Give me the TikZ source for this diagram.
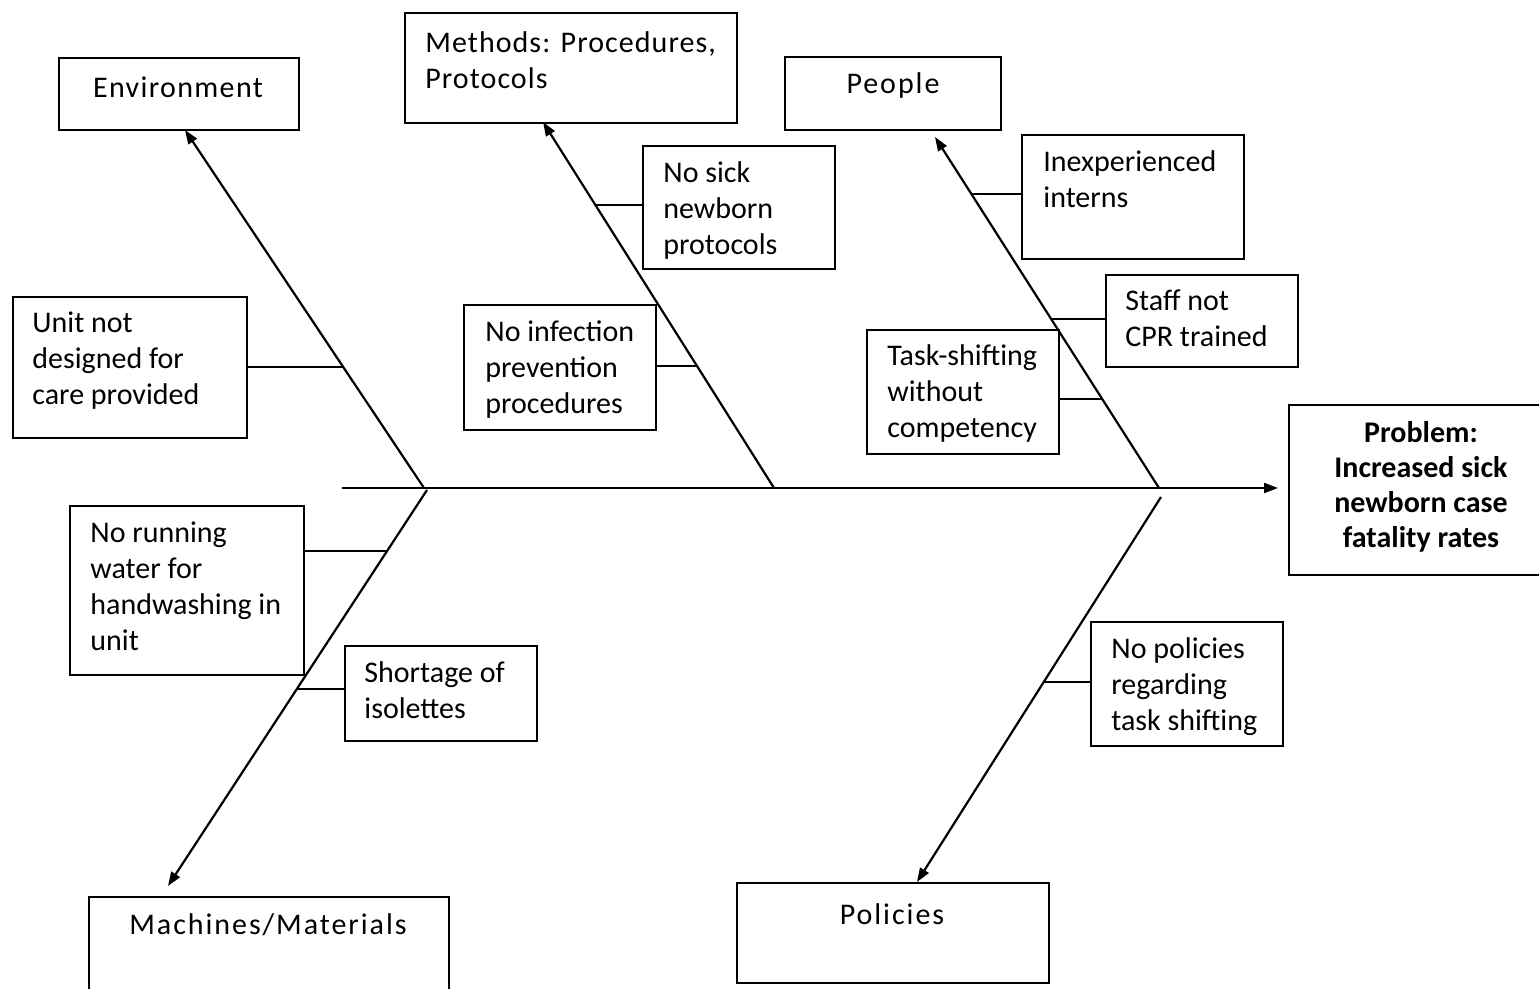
\documentclass[tikz,border=0pt]{standalone}
\usepackage{fontspec}
\setmainfont{Carlito}
\newfontfamily\spA[LetterSpace=4.5]{Carlito}
\newfontfamily\spB[LetterSpace=6.5]{Carlito}
\newfontfamily\spC[LetterSpace=3.5]{Carlito}
\usetikzlibrary{arrows.meta,calc}
\begin{document}
\begin{tikzpicture}[x=0.5pt,y=-0.5pt,
  box/.style={draw,line width=1pt,rectangle,inner sep=0pt,anchor=north west},
  txt/.style={inner sep=0pt,align=left,anchor=base west,font=\fontsize{15}{18}\selectfont},
  ctxt/.style={inner sep=0pt,align=center,anchor=base,font=\fontsize{15}{18}\selectfont},
  btxt/.style={inner sep=0pt,align=center,anchor=base,font=\fontsize{15}{17.5}\selectfont\bfseries},
  arr/.style={line width=1.1pt,-{Triangle[length=7pt,width=5pt]}},
  sub/.style={line width=0.9pt}]
\useasboundingbox (0,0) rectangle (1539,989);
% boxes (sizes in pt = px/2)
\node[box,minimum width=120pt,minimum height=36pt] (env) at (58,57) {};
\node[box,minimum width=166pt,minimum height=55pt] (meth) at (404,12) {};
\node[box,minimum width=108pt,minimum height=36.5pt] (peop) at (784,56) {};
\node[box,minimum width=96pt,minimum height=61.5pt] (sick) at (642,145) {};
\node[box,minimum width=111pt,minimum height=62pt] (inexp) at (1021,134) {};
\node[box,minimum width=96pt,minimum height=46pt] (cpr) at (1105,274) {};
\node[box,minimum width=96pt,minimum height=62pt] (task) at (866,329) {};
\node[box,minimum width=96pt,minimum height=62.5pt] (infec) at (463,304) {};
\node[box,minimum width=117pt,minimum height=70.5pt] (unit) at (12,296) {};
\node[box,minimum width=130pt,minimum height=85pt] (prob) at (1288,404) {};
\node[box,minimum width=117pt,minimum height=84.5pt] (water) at (69,505) {};
\node[box,minimum width=96pt,minimum height=47.5pt] (short) at (344,645) {};
\node[box,minimum width=96pt,minimum height=62pt] (pol1) at (1090,621) {};
\node[box,minimum width=180pt,minimum height=55pt] (mach) at (88,896) {};
\node[box,minimum width=156pt,minimum height=50pt] (pols) at (736,882) {};
% texts (anchor = baseline of last line)
\node[ctxt] (envt) at (178,98) {\spA Environment};
\node[txt] (metht) at (425,89) {\spC Methods: Procedures,\\\spC Protocols};
\node[ctxt] (peopt) at (893,94) {\spB People};
\node[txt] (sickt) at (663,255) {No sick\\newborn\\protocols};
\node[txt] (inexpt) at (1043,208) {Inexperienced\\interns};
\node[txt] (cprt) at (1125,347) {Staff not\\CPR trained};
\node[txt] (taskt) at (887,438) {Task-shifting\\without\\competency};
\node[txt] (infect) at (485,414) {No infection\\prevention\\procedures};
\node[txt] (unitt) at (32,405) {Unit not\\designed for\\care provided};
\node[btxt] (probt) at (1421,548) {Problem:\\Increased sick\\newborn case\\fatality rates};
\node[txt] (watert) at (90,651) {No running\\water for\\handwashing in\\unit};
\node[txt] (shortt) at (364,719) {Shortage of\\isolettes};
\node[txt] (pol1t) at (1111,731) {No policies\\regarding\\task shifting};
\node[ctxt] (macht) at (268,935) {\spB Machines/Materials};
\node[ctxt] (polst) at (892,925) {\spB Policies};
% spine and bones
\coordinate (s0) at (342,488);
\coordinate (s1) at (1278,488);
\coordinate (f1) at (424,488);
\coordinate (f1b) at (427,490);
\coordinate (f2) at (774,488);
\coordinate (f3) at (1159,488);
\coordinate (f3b) at (1161,497);
\coordinate (tenv) at (185,130);
\coordinate (tmach) at (168,886);
\coordinate (tmeth) at (543,122);
\coordinate (tpeop) at (935,137);
\coordinate (tpol) at (917,882);
\draw[arr] (s0) -- (s1);
\draw[arr] (f1) -- (tenv);
\draw[arr] (f1b) -- (tmach);
\draw[arr] (f2) -- (tmeth);
\draw[arr] (f3) -- (tpeop);
\draw[arr] (f3b) -- (tpol);
% points on bones
\coordinate (bunit) at (343.2,367);
\coordinate (bwater) at (387.1,551);
\coordinate (bshort) at (296.9,689);
\coordinate (bsick) at (595.4,205);
\coordinate (binfec) at (697.0,366);
\coordinate (binexp) at (971.4,194);
\coordinate (bcpr) at (1051.2,319);
\coordinate (btask) at (1102.2,399);
\coordinate (bpol) at (1043.7,682);
\draw[sub] (unit.east |- bunit) -- (bunit);
\draw[sub] (water.east |- bwater) -- (bwater);
\draw[sub] (short.west |- bshort) -- (bshort);
\draw[sub] (sick.west |- bsick) -- (bsick);
\draw[sub] (infec.east |- binfec) -- (binfec);
\draw[sub] (inexp.west |- binexp) -- (binexp);
\draw[sub] (cpr.west |- bcpr) -- (bcpr);
\draw[sub] (task.east |- btask) -- (btask);
\draw[sub] (pol1.west |- bpol) -- (bpol);
\end{tikzpicture}
\end{document}
